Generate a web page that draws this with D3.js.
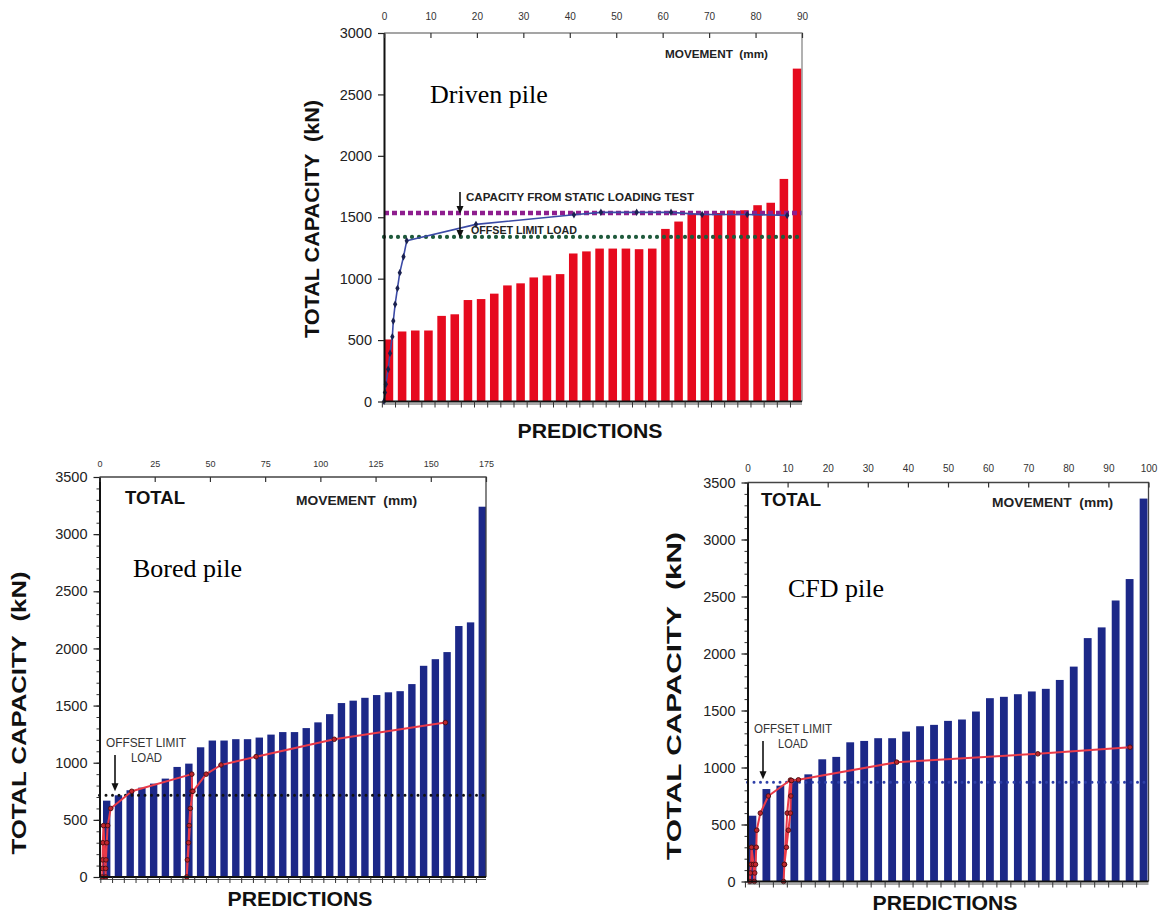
<!DOCTYPE html>
<html>
<head>
<meta charset="utf-8">
<script src="https://cdn.jsdelivr.net/npm/d3@7"></script>
<style>
  body { margin: 0; background: #fff; }
  svg { font-family: "Liberation Sans", Arial, sans-serif; }
</style>
</head>
<body>
<div id="chart"></div>
<script>
// predicted capacities (kN), sorted, one bar per prediction
var drivenBars = [505, 570, 578, 578, 697, 710, 826, 834, 878, 945, 962, 1010, 1026, 1037,
    1205, 1222, 1245, 1245, 1245, 1240, 1245, 1405, 1465, 1530, 1532, 1535, 1555, 1557,
    1598, 1618, 1812, 2710];
var boredBars = [668, 715, 759, 782, 817, 861, 963, 992, 1135, 1194, 1194, 1206, 1206, 1220,
    1246, 1268, 1268, 1303, 1353, 1425, 1522, 1543, 1568, 1592, 1616, 1626, 1688, 1848,
    1906, 1968, 2196, 2228, 3240];
var cfdBars = [577, 811, 841, 900, 940, 1072, 1093, 1221, 1233, 1257, 1257, 1315, 1362, 1374,
    1409, 1421, 1491, 1608, 1620, 1643, 1667, 1690, 1768, 1885, 2135, 2229, 2465, 2653, 3359];

// measured load-movement curves: [movement mm, load kN]
var drivenCurve = [[0, 0], [0.2, 73], [0.4, 141], [0.9, 263], [1.3, 393], [1.8, 528], [2.0, 656],
    [2.4, 792], [2.9, 921], [3.4, 1049], [4.2, 1179], [4.9, 1309], [19.8, 1442], [40.9, 1520],
    [46.7, 1540], [54.4, 1540], [61.8, 1540], [68.5, 1523], [78.2, 1523], [86.8, 1515]];
var boredCurve = [[1.2, 0], [1.3, 75], [1.4, 150], [1.5, 300], [1.8, 450], [2.8, 0], [2.8, 75],
    [2.9, 150], [3.3, 300], [3.7, 450], [5.1, 600], [14.6, 750], [41.8, 900], [41.9, 750],
    [39.5, 0], [39.8, 150], [40.3, 300], [40.6, 450], [41.1, 600], [42.3, 750], [48.3, 900],
    [55.0, 980], [70.9, 1053], [106.3, 1205], [156.6, 1351]];
var cfdCurve = [[0.6, 0], [0.7, 75], [0.9, 150], [1.0, 300], [1.5, 150], [1.7, 0], [1.8, 75],
    [2.0, 150], [2.2, 300], [2.3, 450], [3.2, 600], [5.2, 750], [10.7, 890], [9.9, 600],
    [9.2, 150], [9.0, 0], [9.2, 150], [9.7, 300], [10.2, 450], [10.7, 600], [10.8, 750],
    [11.0, 886], [12.7, 892], [37.2, 1047], [72.4, 1120], [95.4, 1178]];

// reference loads (kN)
var drivenStatic = 1535;
var drivenOffset = 1340;
var boredOffset = 715;
var cfdOffset = 870;

// tick labels
var capTicks3000 = [0, 500, 1000, 1500, 2000, 2500, 3000];
var capTicks3500 = [0, 500, 1000, 1500, 2000, 2500, 3000, 3500];
var drivenMoveTicks = [0, 10, 20, 30, 40, 50, 60, 70, 80, 90];
var boredMoveTicks = [0, 25, 50, 75, 100, 125, 150, 175];
var cfdMoveTicks = [0, 10, 20, 30, 40, 50, 60, 70, 80, 90, 100];

var svg = d3.select('#chart').append('svg')
    .attr('width', 1161)
    .attr('height', 916);

function dotted(g, x0, x1, yy, color, dash, width, cap) {
    g.append('line')
        .attr('x1', x0).attr('x2', x1).attr('y1', yy).attr('y2', yy)
        .attr('stroke', color).attr('stroke-width', width)
        .attr('stroke-dasharray', dash).attr('stroke-linecap', cap);
}

function arrow(g, x, y1, y2) {
    g.append('line').attr('x1', x).attr('x2', x).attr('y1', y1).attr('y2', y2 - 6)
        .attr('stroke', '#111').attr('stroke-width', 1.6);
    g.append('path')
        .attr('d', 'M' + (x - 3.5) + ',' + (y2 - 8) + 'L' + (x + 3.5) + ',' + (y2 - 8) + 'L' + x + ',' + y2 + 'Z')
        .attr('fill', '#111');
}

function label(g, x, y, txt, size, weight, fill, len) {
    var t = g.append('text')
        .attr('x', x).attr('y', y)
        .attr('font-size', size).attr('font-weight', weight || 'normal')
        .attr('fill', fill || '#222')
        .style('white-space', 'pre')
        .text(txt);
    if (len) t.attr('textLength', len).attr('lengthAdjust', 'spacingAndGlyphs');
    return t;
}

function panel(o) {
    var g = svg.append('g');
    var y = d3.scaleLinear().domain([0, o.yMax]).range([o.bottom, o.top]);
    var mx = d3.scaleLinear().domain([0, o.moveMax]).range([o.left, o.right]);
    var x = d3.scaleBand().domain(d3.range(o.bars.length)).range(o.band)
        .paddingInner(o.pad).paddingOuter(o.padOuter);

    g.selectAll('rect.bar').data(o.bars).enter().append('rect')
        .attr('class', 'bar')
        .attr('x', function(d, i) { return x(i); })
        .attr('y', function(d) { return y(d); })
        .attr('width', x.bandwidth())
        .attr('height', function(d) { return y(0) - y(d); })
        .attr('fill', o.barColor);

    // reference lines
    o.refs.forEach(function(r) {
        dotted(g, o.left, o.right, y(r.v), r.color, r.dash, r.width, r.cap);
    });

    // load-movement curve
    var line = d3.line()
        .x(function(d) { return mx(d[0]); })
        .y(function(d) { return y(d[1]); });
    g.append('path').datum(o.curve)
        .attr('d', line)
        .attr('fill', 'none')
        .attr('stroke', o.curveColor)
        .attr('stroke-width', o.curveWidth)
        .attr('stroke-linejoin', 'round');
    if (o.marker === 'diamond') {
        g.selectAll('path.mk').data(o.curve).enter().append('path')
            .attr('class', 'mk')
            .attr('transform', function(d) { return 'translate(' + mx(d[0]) + ',' + y(d[1]) + ')'; })
            .attr('d', d3.symbol(d3.symbolDiamond, 16))
            .attr('fill', '#1a2150');
    } else {
        g.selectAll('circle.mk').data(o.curve).enter().append('circle')
            .attr('class', 'mk')
            .attr('cx', function(d) { return mx(d[0]); })
            .attr('cy', function(d) { return y(d[1]); })
            .attr('r', 2.3)
            .attr('fill', '#c0262e')
            .attr('stroke', '#4a0d10')
            .attr('stroke-width', 0.9);
    }

    // frame
    g.append('path')
        .attr('d', 'M' + o.left + ',' + o.top + 'H' + o.right + 'V' + o.bottom)
        .attr('fill', 'none').attr('stroke', o.frameColor).attr('stroke-width', 1.3);

    // left axis
    if (o.minor) {
        g.append('g')
            .attr('transform', 'translate(' + o.left + ',0)')
            .call(d3.axisLeft(y).tickValues(d3.range(0, o.yMax + 1, 100)).tickSize(3).tickFormat(''))
            .call(function(a) { a.select('.domain').remove(); a.selectAll('line').attr('stroke', '#333'); });
    }
    g.append('g')
        .attr('transform', 'translate(' + o.left + ',0)')
        .call(d3.axisLeft(y).tickValues(o.capTicks).tickFormat(d3.format('d'))
            .tickSize(6).tickSizeOuter(0).tickPadding(6))
        .call(function(a) {
            a.select('.domain').attr('stroke', '#111').attr('stroke-width', 2);
            a.selectAll('line').attr('stroke', '#222').attr('stroke-width', 1.2);
            a.selectAll('text').attr('font-size', 14.5).attr('fill', '#222')
                .attr('font-family', '"Liberation Sans", Arial, sans-serif');
        });

    // top movement axis
    g.append('g')
        .attr('transform', 'translate(0,' + o.top + ')')
        .call(d3.axisTop(mx).tickValues(o.moveTicks).tickFormat(d3.format('d'))
            .tickSize(-5).tickSizeOuter(0).tickPadding(o.topPad))
        .call(function(a) {
            a.select('.domain').remove();
            a.selectAll('line').attr('stroke', '#333').attr('stroke-width', 1.2);
            a.selectAll('text').attr('font-size', o.topFont).attr('fill', '#333')
                .attr('font-family', '"Liberation Sans", Arial, sans-serif');
        });

    // bottom double line with ticks between predictions
    g.append('line').attr('x1', o.left).attr('x2', o.right).attr('y1', o.bottom).attr('y2', o.bottom)
        .attr('stroke', '#111').attr('stroke-width', 2);
    g.append('line').attr('x1', o.left).attr('x2', o.right).attr('y1', o.bottom + 2.5).attr('y2', o.bottom + 2.5)
        .attr('stroke', '#555').attr('stroke-width', 1);
    g.selectAll('line.bt').data(o.bars).enter().append('line')
        .attr('class', 'bt')
        .attr('x1', function(d, i) { return x(i) - x.step() * x.paddingInner() / 2; })
        .attr('x2', function(d, i) { return x(i) - x.step() * x.paddingInner() / 2; })
        .attr('y1', o.bottom).attr('y2', o.bottom + 6)
        .attr('stroke', '#333').attr('stroke-width', 1);

    // axis titles
    g.append('text')
        .attr('transform', 'translate(' + o.yTitle[0] + ',' + o.yTitle[1] + ') rotate(-90)')
        .attr('text-anchor', 'middle')
        .attr('font-size', 20).attr('font-weight', 'bold').attr('fill', '#111')
        .attr('textLength', o.yTitle[2]).attr('lengthAdjust', 'spacingAndGlyphs')
        .style('white-space', 'pre')
        .text('TOTAL CAPACITY  (kN)');
    label(g, o.xTitle[0], o.xTitle[1], 'PREDICTIONS', 21, 'bold', '#111', 145)
        .attr('text-anchor', 'middle');
    label(g, o.moveLabel[0], o.moveLabel[1], 'MOVEMENT  (mm)', o.moveFont, 'bold', '#222', o.moveLabel[2]);
    label(g, o.title[0], o.title[1], o.name, 26, 'normal', '#000')
        .style('font-family', '"Liberation Serif", "Times New Roman", serif');
    if (o.total) {
        label(g, o.total[0], o.total[1], 'TOTAL', 17.5, 'bold', '#111', 60);
    }
    return { g: g, y: y, mx: mx };
}

// driven pile (top)
var drivenPanel = panel({
    bars: drivenBars, curve: drivenCurve, yMax: 3000, moveMax: 90,
    left: 384, right: 802, top: 33, bottom: 401.5,
    band: [384, 802], pad: 0.35, padOuter: 0.05,
    barColor: '#e60a1e', curveColor: '#3b4aa6', curveWidth: 1.6, marker: 'diamond',
    frameColor: '#888', minor: false,
    capTicks: capTicks3000, moveTicks: drivenMoveTicks, topPad: 13, topFont: 10,
    refs: [
        { v: drivenStatic, color: '#8e1e8e', dash: '5 3', width: 4.5, cap: 'butt' },
        { v: drivenOffset, color: '#1f5a3c', dash: '0 7', width: 4.2, cap: 'round' }
    ],
    yTitle: [319, 219, 238], xTitle: [590, 438],
    moveLabel: [665, 58, 103], moveFont: 11,
    title: [430, 103], name: 'Driven pile'
});
label(drivenPanel.g, 466, 200.5, 'CAPACITY FROM STATIC LOADING TEST', 11, 'bold', '#222', 228);
label(drivenPanel.g, 471, 233.5, 'OFFSET LIMIT LOAD', 10.5, 'bold', '#222', 106);
arrow(drivenPanel.g, 460, 192, drivenPanel.y(drivenStatic) + 1);
arrow(drivenPanel.g, 460, 218, drivenPanel.y(drivenOffset) + 1);

// bored pile (bottom left)
var boredPanel = panel({
    bars: boredBars, curve: boredCurve, yMax: 3500, moveMax: 175,
    left: 99.5, right: 486, top: 477, bottom: 877,
    band: [103, 486], pad: 0.37, padOuter: 0,
    barColor: '#1c2888', curveColor: '#ea3a48', curveWidth: 2, marker: 'circle',
    frameColor: '#444', minor: true,
    capTicks: capTicks3500, moveTicks: boredMoveTicks, topPad: 10, topFont: 9,
    refs: [
        { v: boredOffset, color: '#111', dash: '0 6.5', width: 3, cap: 'round' }
    ],
    yTitle: [26, 713, 283], xTitle: [300, 906],
    moveLabel: [296, 505, 121], moveFont: 12.5,
    title: [133, 577], name: 'Bored pile', total: [125, 504]
});
label(boredPanel.g, 106, 747, 'OFFSET LIMIT', 12, 'normal', '#333', 80);
label(boredPanel.g, 131, 762, 'LOAD', 12, 'normal', '#333', 31);
arrow(boredPanel.g, 115, 755, boredPanel.y(boredOffset) - 4);

// CFD pile (bottom right)
var cfdPanel = panel({
    bars: cfdBars, curve: cfdCurve, yMax: 3500, moveMax: 100,
    left: 747.5, right: 1148.5, top: 482.5, bottom: 881.5,
    band: [748.5, 1147.5], pad: 0.44, padOuter: 0,
    barColor: '#1c2888', curveColor: '#ea3a48', curveWidth: 2, marker: 'circle',
    frameColor: '#444', minor: true,
    capTicks: capTicks3500, moveTicks: cfdMoveTicks, topPad: 11, topFont: 10,
    refs: [
        { v: cfdOffset, color: '#2e3fa8', dash: '0 6.5', width: 3, cap: 'round' }
    ],
    yTitle: [681, 696, 328], xTitle: [945, 910],
    moveLabel: [992, 507, 121], moveFont: 12.5,
    title: [788, 597], name: 'CFD pile', total: [761, 506]
});
label(cfdPanel.g, 754, 733, 'OFFSET LIMIT', 12, 'normal', '#333', 78);
label(cfdPanel.g, 778, 748, 'LOAD', 12, 'normal', '#333', 30);
arrow(cfdPanel.g, 763, 741, cfdPanel.y(cfdOffset) - 3);
</script>
</body>
</html>
